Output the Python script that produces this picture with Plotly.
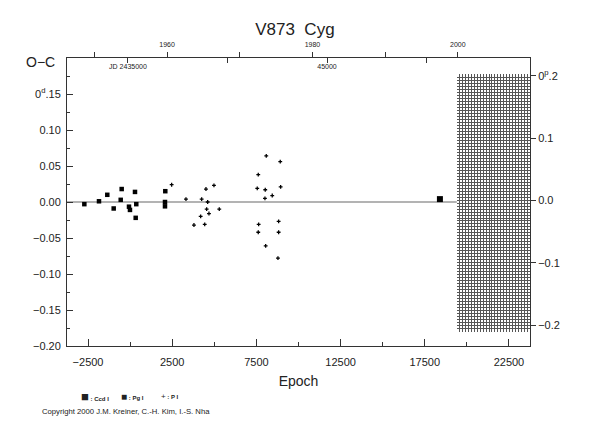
import plotly.graph_objects as go

pg_epoch = [-2720, -1850, -1357, -502, -560, -977, -68, -10, 288, 365, 330, 2088, 2070, 2070]
pg_oc = [-0.003, 0.001, 0.010, 0.018, 0.003, -0.009, -0.0065, -0.011, 0.014, -0.003, -0.022, 0.015, 0.000, -0.006]

pe_epoch = [2466, 3316, 3790, 4189, 4248, 4504, 4605, 4545, 4682, 4430, 4979, 5294,
            7610, 8085, 7550, 8025, 8007, 8440, 8916, 8940, 7633, 7610, 8820, 8820, 8050, 8780]
pe_oc = [0.024, 0.004, -0.032, -0.020, 0.004, 0.018, 0.000, -0.010, -0.016, -0.031, 0.023, -0.010,
         0.038, 0.064, 0.019, 0.017, 0.005, 0.009, 0.056, 0.021, -0.031, -0.042, -0.027, -0.042, -0.061, -0.078]

ccd_epoch = [18399]
ccd_oc = [0.004]

# axis ranges
epoch_range = [-3750, 23750]
oc_range = [-0.20, 0.20]
phase_range = [-0.2337, 0.2289]
year_range = [1946.24, 2009.93]
jd_range = [2431935, 2455201]
grid_start = 19410  # epoch where the hatched area begins

epoch_vals = [-2500, 2500, 7500, 12500, 17500, 22500]
epoch_text = ["\u22122500", "2500", "7500", "12500", "17500", "22500"]
left_vals = [-0.20, -0.15, -0.10, -0.05, 0.0, 0.05, 0.10, 0.15, 0.20]
left_text = ["\u22120.20", "\u22120.15", "\u22120.10", "\u22120.05", "0.00", "0.05", "0.10",
             "0<sup>d</sup>.15", " "]
right_vals = [-0.2, -0.1, 0.0, 0.1, 0.2]
right_text = ["\u22120.2", "\u22120.1", "0.0", "0.1", "0<sup>p</sup>.2"]
year_vals = [1950, 1960, 1970, 1980, 1990, 2000]
year_text = [" ", "1960", " ", "1980", " ", "2000"]
jd_vals = [2435000, 2440000, 2445000, 2450000]
jd_text = ["JD 2435000", " ", "45000", " "]
key_symbols = ["\u25A0", "\u25A0", "+"]
key_sizes = [13, 10, 8]
key_names = [": Ccd I", ": Pg I", ": P I"]

font = "Liberation Sans, Arial, sans-serif"
axcol = "#333333"
txtcol = "#222222"

fig = go.Figure()

fig.add_trace(go.Scatter(
    x=ccd_epoch, y=ccd_oc, mode="markers", name="Ccd I", showlegend=False,
    marker=dict(symbol="square", size=6, color="black")))
fig.add_trace(go.Scatter(
    x=pg_epoch, y=pg_oc, mode="markers", name="Pg I", showlegend=False,
    marker=dict(symbol="square", size=4.5, color="black")))
fig.add_trace(go.Scatter(
    x=pe_epoch, y=pe_oc, mode="markers", name="P I", showlegend=False,
    marker=dict(symbol="cross", size=3.2, color="black")))

# invisible traces to bring up the secondary axes
fig.add_trace(go.Scatter(x=[None], y=[None], xaxis="x2", yaxis="y2", showlegend=False))
fig.add_trace(go.Scatter(x=[None], y=[None], xaxis="x3", yaxis="y", showlegend=False))
fig.add_trace(go.Scatter(x=[None], y=[None], xaxis="x4", yaxis="y4", showlegend=False))

# zero line up to the hatched area
fig.add_shape(type="line", x0=epoch_range[0], x1=grid_start, y0=0, y1=0,
              xref="x", yref="y", line=dict(color="#9a9a9a", width=1.5), layer="below")

tick_font = dict(family=font, size=11, color=txtcol)
small_font = dict(family=font, size=7, color=txtcol)

# page has an 8px body margin, so the figure is 8px smaller than the window
fig.update_layout(
    width=582, height=417,
    margin=dict(l=59, r=60, t=50, b=79),
    paper_bgcolor="white", plot_bgcolor="white",
    title=dict(text="V873  Cyg", x=0.493, xanchor="center", y=0.95, yanchor="middle",
               font=dict(family=font, size=17, color=txtcol)),
    showlegend=False,
    xaxis=dict(range=epoch_range, showgrid=False, zeroline=False, showline=True,
               linecolor=axcol, linewidth=1, ticks="inside", ticklen=7, tickcolor=axcol,
               tickvals=epoch_vals, ticktext=epoch_text, tickfont=tick_font, automargin=False,
               ticklabelstandoff=6,
               minor=dict(ticks="inside", ticklen=4, tick0=0, dtick=5000, tickcolor=axcol),
               title=dict(text="Epoch", font=dict(family=font, size=14, color=txtcol), standoff=8)),
    yaxis=dict(range=oc_range, showgrid=False, zeroline=False, showline=True,
               linecolor=axcol, linewidth=1, ticks="inside", ticklen=6, tickcolor=axcol,
               tickvals=left_vals, ticktext=left_text, tickfont=tick_font, automargin=False,
               ticklabelstandoff=3,
               minor=dict(ticks="inside", ticklen=3, dtick=0.025, tick0=0, tickcolor=axcol)),
    xaxis2=dict(range=year_range, overlaying="x", side="top", showgrid=False, zeroline=False,
                showline=True, linecolor=axcol, linewidth=1, ticks="outside", ticklen=5,
                tickcolor=axcol, tickvals=year_vals, ticktext=year_text,
                tickfont=small_font, automargin=False, ticklabelstandoff=2),
    xaxis3=dict(range=jd_range, overlaying="x", side="top", showgrid=False, zeroline=False,
                showline=False, ticks="inside", ticklen=5, tickcolor=axcol,
                tickvals=jd_vals, ticktext=jd_text, ticklabelposition="inside",
                tickfont=small_font, automargin=False),
    yaxis2=dict(range=phase_range, overlaying="y", side="right", anchor="x2", showgrid=False,
                zeroline=False, showline=True, linecolor=axcol, linewidth=1,
                ticks="outside", ticklen=5, tickcolor=axcol, automargin=False,
                tickvals=right_vals, ticktext=right_text, tickfont=tick_font),
    xaxis4=dict(domain=[0.842, 1.0], anchor="y4", range=[0, 25], dtick=1,
                showgrid=True, gridcolor="#555555", gridwidth=0.7, automargin=False,
                showticklabels=False, zeroline=False, showline=False, ticks=""),
    yaxis4=dict(domain=[0.0497, 0.943], anchor="x4", range=[0, 86], dtick=1,
                showgrid=True, gridcolor="#555555", gridwidth=0.7, automargin=False,
                showticklabels=False, zeroline=False, showline=False, ticks=""),
)

fig.add_annotation(text="O\u2212C", xref="paper", yref="paper", x=-0.022, y=0.986,
                   xanchor="right", yanchor="middle", showarrow=False,
                   font=dict(family=font, size=14, color=txtcol))

# symbol key under the axis
key_x = [0.026, 0.112, 0.198]
for sym, sz, name, kx in zip(key_symbols, key_sizes, key_names, key_x):
    text = '<span style="font-size:%dpx">%s</span> <b>%s</b>' % (sz, sym, name)
    fig.add_annotation(text=text, xref="paper", yref="paper", x=kx, y=-0.177,
                       xanchor="left", yanchor="middle", showarrow=False,
                       font=dict(family=font, size=6, color=txtcol))

fig.add_annotation(text="Copyright 2000 J.M. Kreiner, C.-H. Kim, I.-S. Nha",
                   xref="paper", yref="paper", x=-0.058, y=-0.226,
                   xanchor="left", yanchor="middle", showarrow=False,
                   font=dict(family=font, size=7.7, color=txtcol))

fig.write_html("out.html")
